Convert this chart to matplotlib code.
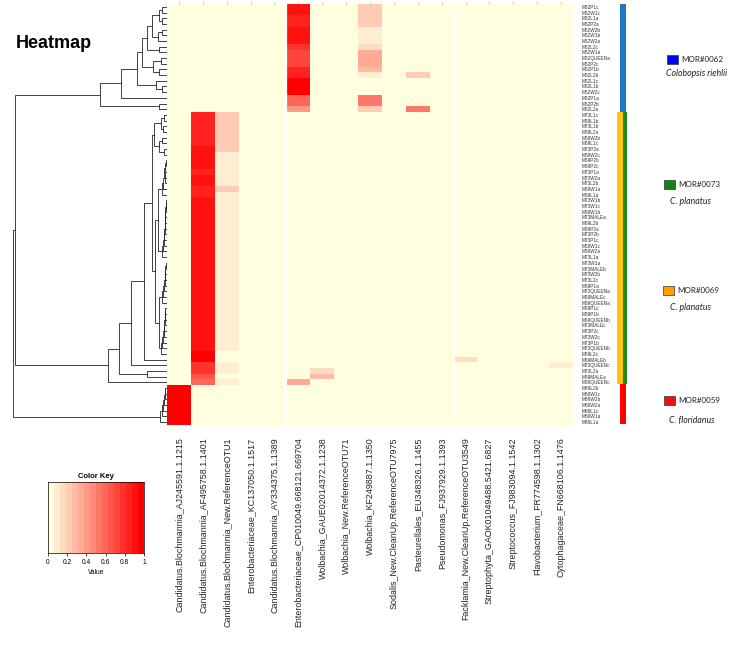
import numpy as np
import matplotlib
matplotlib.use("Agg")
import matplotlib.pyplot as plt
from matplotlib.colors import LinearSegmentedColormap, Normalize
from matplotlib.patches import Rectangle

W, H = 735, 650

taxa = [
    "Candidatus.Blochmannia_AJ245591.1.1215",
    "Candidatus.Blochmannia_AF495758.1.1401",
    "Candidatus.Blochmannia_New.ReferenceOTU1",
    "Enterobacteriaceae_KC137050.1.1517",
    "Candidatus.Blochmannia_AY334375.1.1389",
    "Enterobacteriaceae_CP010049.668121.669704",
    "Wolbachia_GAUE02014372.1.1238",
    "Wolbachia_New.ReferenceOTU71",
    "Wolbachia_KF249887.1.1350",
    "Sodalis_New.CleanUp.ReferenceOTU7975",
    "Pasteurellales_EU348326.1.1455",
    "Pseudomonas_FJ937929.1.1393",
    "Facklamia_New.CleanUp.ReferenceOTU3549",
    "Streptophyta_GAOK01049488.5421.6827",
    "Streptococcus_FJ983094.1.1542",
    "Flavobacterium_FR774598.1.1302",
    "Cytophagaceae_FN668106.1.1476",
]

rows_m62 = ["M62P1c", "M62W1c", "M62L1a", "M62P2a", "M62W2b", "M62W1b", "M62W2a",
            "M62L2c", "M62W1a", "M62QUEENa", "M62P2c", "M62P1b", "M62L2b", "M62L1c",
            "M62L1b", "M62W2c", "M62P1a", "M62P2b", "M62L2a"]
rows_mid = ["M73L1c", "M69L1b", "M73L1b", "M69L2a", "M69W2b", "M69L1c", "M73P2a", "M69W2c",
            "M69P2b", "M69P2c", "M73P1a", "M73W2a", "M73L2b", "M69W1a", "M69L1a", "M73W1b",
            "M73W1c", "M69W1b", "M73MALEa", "M69L2b", "M69P2a", "M73P2b", "M73P1c", "M69W1c",
            "M69W2a", "M73L1a", "M73W1a", "M73MALEb", "M73W2b", "M73L2c", "M69P1a", "M73QUEENa",
            "M69MALEc", "M69QUEENa", "M69P1c", "M69P1b", "M69QUEENb", "M73MALEc", "M73P2c",
            "M73W2c", "M73P1b", "M73QUEENb", "M69L2c", "M69MALEb", "M73QUEENc", "M73L2a",
            "M69MALEa", "M69QUEENc"]
rows_m59 = ["M59L2b", "M59W1c", "M59W2b", "M59W2a", "M59L1c", "M59W1a", "M59L1a"]
row_labels = rows_m62 + rows_mid + rows_m59

# (first row, last row, value) runs per taxon column, everything else is 0
runs_bloch_aj = [(67, 73, 1.0)]
runs_bloch_af = [(19, 24, 0.87), (25, 28, 0.93), (29, 29, 0.87), (30, 31, 0.93), (32, 33, 0.86),
                 (34, 60, 0.93), (61, 62, 1.0), (63, 64, 0.75), (65, 65, 0.68), (66, 66, 0.6)]
runs_bloch_otu1 = [(19, 25, 0.2), (26, 31, 0.12), (32, 32, 0.2), (33, 60, 0.12),
                   (63, 64, 0.12), (66, 66, 0.1)]
runs_entero_cp = [(0, 1, 0.9), (2, 3, 0.82), (4, 6, 0.9), (7, 7, 0.8), (8, 10, 0.74),
                  (11, 12, 0.85), (13, 14, 1.0), (15, 15, 0.95), (16, 17, 0.58), (18, 18, 0.42),
                  (66, 66, 0.35)]
runs_wolb_gaue = [(64, 64, 0.18), (65, 65, 0.25)]
runs_wolb_kf = [(0, 3, 0.2), (4, 6, 0.12), (7, 7, 0.16), (8, 10, 0.35), (11, 11, 0.25),
                (12, 12, 0.1), (16, 17, 0.55), (18, 18, 0.2)]
runs_pasteur = [(12, 12, 0.2), (18, 18, 0.5)]
runs_facklamia = [(62, 62, 0.15)]
runs_cyto = [(63, 63, 0.12)]

col_runs = [runs_bloch_aj, runs_bloch_af, runs_bloch_otu1, [], [], runs_entero_cp,
            runs_wolb_gaue, [], runs_wolb_kf, [], runs_pasteur, [], runs_facklamia,
            [], [], [], runs_cyto]

legend_ids = ["MOR#0062", "MOR#0073", "MOR#0069", "MOR#0059"]
legend_species = ["Colobopsis riehlii", "C. planatus", "C. planatus", "C. floridanus"]
legend_colors = ["#0000FF", "#148214", "#FFA000", "#F01010"]

nrow, ncol = len(row_labels), len(taxa)
values = np.zeros((nrow, ncol))
for j, runs in enumerate(col_runs):
    for a, b, v in runs:
        values[a:b + 1, j] = v


def ladder(leaves, heights):
    node = leaves[0]
    for leaf, h in zip(leaves[1:], heights):
        node = (h, node, leaf)
    return node


# row dendrogram, heights relative to the root
m62_top = (0.16,
           (0.13, (0.10, (0.05, (0.03, 0, 1), (0.035, 2, 3)), (0.06, (0.03, 4, 5), 6)), (0.05, 7, 8)),
           (0.09, (0.04, 9, 10), (0.05, 11, 12)))
m62_tree = (0.435, (0.30, (0.195, m62_top, (0.07, 13, (0.03, 14, 15))), 16), (0.05, 17, 18))

sub1 = (0.085, (0.04, (0.02, 19, 20), (0.025, 21, 22)), (0.05, (0.03, 23, 24), (0.02, 25, 26)))
la = ladder(list(range(27, 34)), [0.008, 0.012, 0.02, 0.015, 0.025, 0.03])
lb = ladder(list(range(34, 45)), [0.005, 0.008, 0.01, 0.012, 0.01, 0.015, 0.018, 0.02, 0.025, 0.03])
lc = ladder(list(range(45, 53)), [0.006, 0.01, 0.012, 0.015, 0.02, 0.025, 0.035])
ld = ladder(list(range(53, 62)), [0.01, 0.012, 0.015, 0.02, 0.022, 0.025, 0.03, 0.04])
sub2 = (0.075, (0.06, la, lb), (0.055, lc, ld))
big = (0.10, sub1, sub2)
mid_tree = (0.383, (0.31, (0.235, (0.15, big, 62), 63), (0.13, 64, 65)), 66)
m59_tree = ladder(list(range(67, 74)), [0.01, 0.015, 0.02, 0.025, 0.035, 0.045])
root = (1.0, (0.99, m62_tree, mid_tree), m59_tree)


def fx(x):
    return x / W


def fy(y):
    return 1 - y / H


fig = plt.figure(figsize=(W / 100, H / 100), dpi=100)
sans = "Liberation Sans"

heat_top, heat_bot = 4, 425
hb = fy(heat_bot)
hh = (heat_bot - heat_top) / H

# heatmap
ax = fig.add_axes([fx(167), hb, fx(573 - 167), hh])
cmap = LinearSegmentedColormap.from_list("ky", ["#FFFFE0", "#FF0000"], N=16)
ax.pcolormesh(np.arange(ncol + 1), np.arange(nrow + 1), values, cmap=cmap,
              norm=Normalize(0, 1))
ax.set_xlim(0, ncol)
ax.set_ylim(nrow, 0)
for xs in [5, 12]:
    ax.axvline(xs, color="white", lw=1.6)
for s in ax.spines.values():
    s.set_visible(False)
ax.set_xticks(np.arange(ncol) + 0.5)
ax.set_xticklabels(taxa, rotation=90, fontsize=6.4, family=sans, color="#222222")
ax.tick_params(axis="x", bottom=False, top=True, labelbottom=True, labeltop=False,
               length=2, width=0.4, color="#aaaaaa", pad=7)
ax.yaxis.tick_right()
ax.set_yticks(np.arange(nrow) + 0.5)
ax.set_yticklabels(row_labels, fontsize=3.4, family=sans, color="#333333")
ax.tick_params(axis="y", length=0, pad=6)

# dendrogram
axd = fig.add_axes([fx(5), hb, fx(162), hh])


def draw(node):
    if isinstance(node, int):
        return node + 0.5, 0.0
    h, left, right = node
    pl, hl = draw(left)
    pr, hr = draw(right)
    axd.plot([hl, h, h, hr], [pl, pl, pr, pr], color="#222222", lw=0.6,
             solid_joinstyle="miter")
    return (pl + pr) / 2, h


draw(root)
axd.set_xlim(1 + 8 / 154, 0)
axd.set_ylim(nrow, 0)
axd.axis("off")

# side colour bar
axs = fig.add_axes([fx(617), fy(427), fx(10), (427 - 1) / H])
for i, lab in enumerate(row_labels):
    g = lab[:3]
    if g == "M62":
        axs.barh(i + 0.5, 0.6, left=0.3, height=1, color="#1F78C4", lw=0)
    elif g == "M59":
        axs.barh(i + 0.5, 0.6, left=0.3, height=1, color="#FF0000", lw=0)
    else:
        axs.barh(i + 0.5, 0.6, left=0.0, height=1, color="#FFC20E", lw=0)
        axs.barh(i + 0.5, 0.4, left=0.6, height=1, color="#1E8A1E", lw=0)
axs.set_xlim(0, 1)
axs.set_ylim(nrow + 0.5, -0.5)
axs.axis("off")

# legend
sq_pos = [(667, 55), (664, 180), (663, 286), (664, 396)]
sp_pos = [(697, 74), (691, 202), (690, 308), (692, 421)]
for lid, sp, col, (sx, sy), (px, py) in zip(legend_ids, legend_species, legend_colors, sq_pos, sp_pos):
    fig.patches.append(Rectangle((fx(sx), fy(sy + 9)), fx(11), 9 / H, transform=fig.transFigure,
                                 facecolor=col, edgecolor="#333333", lw=0.5))
    fig.text(fx(sx + 14), fy(sy + 4.5), lid, fontsize=5.8, family="Lato", va="center",
             color="#222222")
    fig.text(fx(px), fy(py), sp, fontsize=6.3, family="Lato", style="italic", va="center",
             ha="center", color="#222222")

fig.text(fx(16), fy(48), "Heatmap", fontsize=13, fontweight="bold", family=sans, va="baseline")

# colour key
axk = fig.add_axes([fx(48), fy(553), fx(96), 71 / H])
edges = np.linspace(0, 1, 17)
axk.pcolormesh(edges, [0, 1], ((edges[:-1] + edges[1:]) / 2)[None, :], cmap=cmap,
               norm=Normalize(0, 1))
axk.set_xlim(0, 1)
axk.set_ylim(0, 1)
axk.set_yticks([])
axk.set_xticks([0, 0.2, 0.4, 0.6, 0.8, 1])
axk.set_xticklabels(["0", "0.2", "0.4", "0.6", "0.8", "1"], fontsize=4.8, family=sans)
axk.tick_params(axis="x", length=2.5, width=0.5, pad=2)
axk.set_xlabel("Value", fontsize=4.8, family=sans, labelpad=2)
axk.set_title("Color Key", fontsize=5.5, fontweight="bold", family=sans, pad=3)
for s in axk.spines.values():
    s.set_linewidth(0.5)

fig.savefig("out.png", dpi=100)
